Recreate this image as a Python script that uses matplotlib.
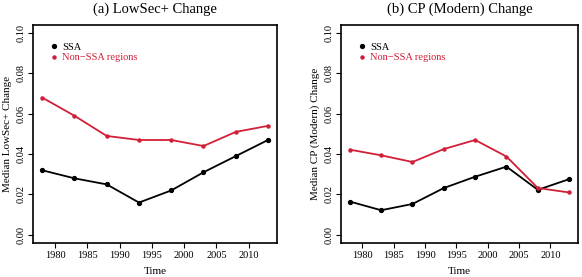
import matplotlib
matplotlib.use('Agg')
import matplotlib.pyplot as plt

plt.rcParams['font.family'] = ['Liberation Serif', 'DejaVu Serif']

years = [1978, 1983, 1988, 1993, 1998, 2003, 2008, 2013]

# (a) LowSec+ change
lowsec_ssa = [0.032, 0.028, 0.025, 0.016, 0.022, 0.031, 0.039, 0.047]
lowsec_non = [0.068, 0.059, 0.049, 0.047, 0.047, 0.044, 0.051, 0.054]

# (b) CP (Modern) change
cp_ssa = [0.0165, 0.0122, 0.0153, 0.0232, 0.0288, 0.0338, 0.0223, 0.0276]
cp_non = [0.0422, 0.0394, 0.0361, 0.0425, 0.0470, 0.0388, 0.0232, 0.0210]

titles = ['(a) LowSec+ Change', '(b) CP (Modern) Change']
ylabels = ['Median LowSec+ Change', 'Median CP (Modern) Change']
xticks = [1980, 1985, 1990, 1995, 2000, 2005, 2010]
yticks = [0.00, 0.02, 0.04, 0.06, 0.08, 0.10]

red = '#d21f38'

fig = plt.figure(figsize=(5.82, 2.77), dpi=100)
axes = [fig.add_axes([0.057, 0.123, 0.419, 0.787]),
        fig.add_axes([0.586, 0.123, 0.407, 0.787])]

for ax, ssa, non, title, ylab in zip(axes, [lowsec_ssa, cp_ssa],
                                     [lowsec_non, cp_non], titles, ylabels):
    ax.plot(years, ssa, color='black', lw=1.3, marker='o', ms=2.8,
            label='SSA')
    ax.plot(years, non, color=red, lw=1.3, marker='o', ms=2.2,
            label='Non\u2212SSA regions')
    ax.set_xlim(1976.6, 2014.4)
    ax.set_ylim(-0.004, 0.104)
    ax.set_xticks(xticks)
    ax.set_yticks(yticks)
    ax.set_yticklabels(['%.2f' % v for v in yticks], rotation=90,
                       va='center')
    ax.tick_params(labelsize=7.5, length=3.5, width=0.8, pad=2)
    for s in ax.spines.values():
        s.set_linewidth(1.2)
    ax.set_xlabel('Time', fontsize=8, labelpad=5)
    ax.set_ylabel(ylab, fontsize=8, labelpad=3)
    ax.set_title(title, fontsize=10.5, pad=9)
    leg = ax.legend(loc='upper left', frameon=False, fontsize=7.5,
                    handlelength=0.6, handletextpad=0.5, labelspacing=0.1,
                    borderaxespad=1.3)
    for h in leg.legend_handles:
        h.set_linestyle('none')
    for t, c in zip(leg.get_texts(), ['black', red]):
        t.set_color(c)

fig.savefig('out.png', dpi=100)
